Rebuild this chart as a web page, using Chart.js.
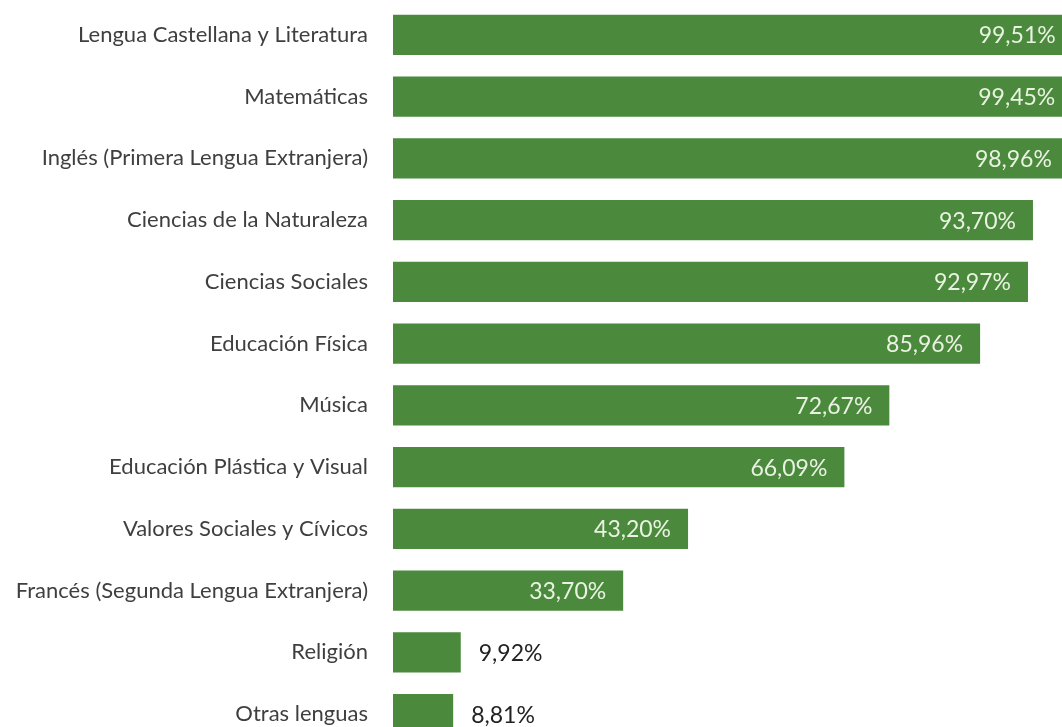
<!DOCTYPE html>
<html>
<head>
<meta charset="utf-8">
<script src="https://cdn.jsdelivr.net/npm/chart.js@4/dist/chart.umd.min.js"></script>
<style>
    html, body { margin: 0; padding: 0; background: #ffffff; overflow: hidden; }
    #wrap { width: 1090px; height: 752px; position: relative; }
</style>
</head>
<body>
<div id="wrap"><canvas id="subjectsChart"></canvas></div>
<script>
// Asignaturas y porcentajes
const categories = [
    'Lengua Castellana y Literatura',
    'Matemáticas',
    'Inglés (Primera Lengua Extranjera)',
    'Ciencias de la Naturaleza',
    'Ciencias Sociales',
    'Educación Física',
    'Música',
    'Educación Plástica y Visual',
    'Valores Sociales y Cívicos',
    'Francés (Segunda Lengua Extranjera)',
    'Religión',
    'Otras lenguas'
];
const percentages = [99.51, 99.45, 98.96, 93.70, 92.97, 85.96, 72.67, 66.09, 43.20, 33.70, 9.92, 8.81];
const xTicks = [0, 100];

const barColor = '#4b8a3d';
const fontFamily = 'Lato, "Open Sans", sans-serif';

function formatPct(v) {
    return v.toFixed(2).replace('.', ',') + '%';
}

// Draw the value labels inside (or next to) each bar
const valueLabels = {
    id: 'valueLabels',
    afterDatasetsDraw(chart) {
        const ctx = chart.ctx;
        const meta = chart.getDatasetMeta(0);
        ctx.save();
        ctx.font = '23px ' + fontFamily;
        ctx.textBaseline = 'middle';
        meta.data.forEach((bar, i) => {
            const v = percentages[i];
            if (v > 20) {
                ctx.fillStyle = '#eaf2e2';
                ctx.textAlign = 'right';
                ctx.fillText(formatPct(v), bar.x - 17, bar.y + 1);
            } else {
                ctx.fillStyle = '#222222';
                ctx.textAlign = 'left';
                ctx.fillText(formatPct(v), bar.x + 18, bar.y + 1);
            }
        });
        ctx.restore();
    }
};

new Chart(document.getElementById('subjectsChart').getContext('2d'), {
    type: 'bar',
    data: {
        labels: categories,
        datasets: [{
            data: percentages,
            backgroundColor: barColor,
            borderWidth: 0,
            barPercentage: 0.65,
            categoryPercentage: 1.0
        }]
    },
    options: {
        indexAxis: 'y',
        responsive: true,
        maintainAspectRatio: false,
        animation: false,
        layout: { padding: { top: 4, right: 14, bottom: 7, left: 0 } },
        plugins: {
            legend: { display: false },
            tooltip: { enabled: false }
        },
        scales: {
            x: {
                display: false,
                min: xTicks[0],
                max: xTicks[1]
            },
            y: {
                grid: { display: false, drawTicks: false },
                border: { display: false },
                ticks: {
                    color: '#3f3f3f',
                    padding: 25,
                    font: { family: fontFamily, size: 22 }
                },
                afterFit(scale) {
                    scale.width = 393;
                    scale.paddingTop = 0;
                    scale.paddingBottom = 0;
                }
            }
        }
    },
    plugins: [valueLabels]
});
</script>
</body>
</html>
